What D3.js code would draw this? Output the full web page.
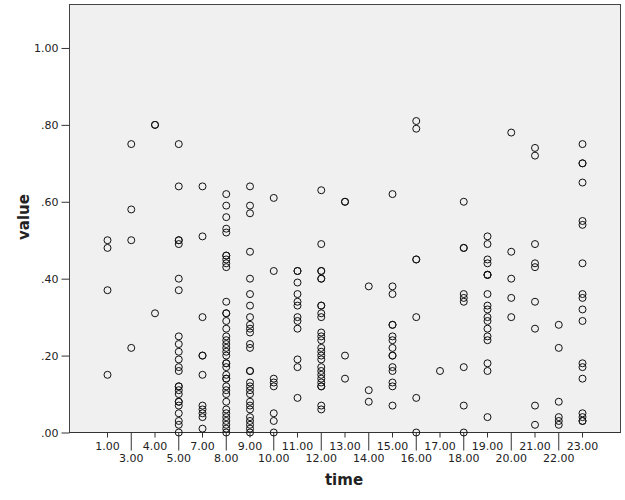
<!doctype html>
<html>
<head>
<meta charset="UTF-8" />
<script src="https://cdn.jsdelivr.net/npm/d3@7"></script>
<style>
  body { margin: 0; background: #fff; }
  svg text { font-family: "DejaVu Sans", sans-serif; }
</style>
</head>
<body>
<svg id="chart" width="625" height="500"></svg>
<script>
// time categories (2 and 6 do not occur)
const times = [1, 3, 4, 5, 7, 8, 9, 10, 11, 12, 13, 14, 15, 16, 17, 18, 19, 20, 21, 22, 23];

// observed values, one list per time category
const valuesByTime = [
  [0.50, 0.48, 0.37, 0.15],
  [0.75, 0.58, 0.50, 0.22],
  [0.80, 0.80, 0.31],
  [0.75, 0.64, 0.50, 0.50, 0.49, 0.40, 0.37, 0.25, 0.23, 0.21, 0.19, 0.17, 0.16, 0.12, 0.12, 0.11, 0.10, 0.08, 0.08, 0.07, 0.05, 0.03, 0.02, 0.00],
  [0.64, 0.51, 0.30, 0.20, 0.20, 0.15, 0.07, 0.06, 0.05, 0.04, 0.01],
  [0.62, 0.59, 0.56, 0.53, 0.52, 0.46, 0.46, 0.45, 0.44, 0.43, 0.34, 0.31, 0.31, 0.29, 0.27, 0.25, 0.24, 0.23, 0.22, 0.21, 0.20, 0.18, 0.18, 0.17, 0.15, 0.14, 0.14, 0.12, 0.11, 0.10, 0.08, 0.06, 0.05, 0.04, 0.03, 0.02, 0.01, 0.00],
  [0.64, 0.59, 0.57, 0.47, 0.40, 0.36, 0.33, 0.30, 0.28, 0.27, 0.26, 0.23, 0.22, 0.16, 0.16, 0.13, 0.12, 0.11, 0.10, 0.08, 0.07, 0.06, 0.04, 0.03, 0.02, 0.01, 0.00],
  [0.61, 0.42, 0.14, 0.13, 0.12, 0.05, 0.03, 0.00],
  [0.42, 0.42, 0.39, 0.36, 0.34, 0.33, 0.30, 0.29, 0.27, 0.19, 0.17, 0.09],
  [0.63, 0.49, 0.42, 0.42, 0.40, 0.40, 0.33, 0.33, 0.31, 0.30, 0.26, 0.25, 0.24, 0.22, 0.21, 0.20, 0.19, 0.17, 0.16, 0.15, 0.14, 0.13, 0.12, 0.12, 0.07, 0.06],
  [0.60, 0.60, 0.20, 0.14],
  [0.38, 0.11, 0.08],
  [0.62, 0.38, 0.36, 0.28, 0.28, 0.25, 0.24, 0.22, 0.20, 0.20, 0.17, 0.16, 0.13, 0.12, 0.07],
  [0.81, 0.79, 0.45, 0.45, 0.30, 0.09, 0.00],
  [0.16],
  [0.60, 0.48, 0.48, 0.36, 0.35, 0.34, 0.17, 0.07, 0.00],
  [0.51, 0.49, 0.45, 0.44, 0.41, 0.41, 0.41, 0.36, 0.33, 0.32, 0.30, 0.29, 0.27, 0.25, 0.24, 0.18, 0.16, 0.04],
  [0.78, 0.47, 0.40, 0.35, 0.30],
  [0.74, 0.72, 0.49, 0.44, 0.43, 0.34, 0.27, 0.07, 0.02],
  [0.28, 0.22, 0.08, 0.04, 0.03, 0.02],
  [0.75, 0.70, 0.70, 0.65, 0.55, 0.54, 0.44, 0.36, 0.35, 0.32, 0.29, 0.18, 0.17, 0.14, 0.05, 0.04, 0.03, 0.03]
];

const yTicks = [0, 0.2, 0.4, 0.6, 0.8, 1.0];

const svg = d3.select("#chart");
const plot = {left: 69.5, right: 620.5, top: 4.5, bottom: 432.5};

const x = d3.scalePoint()
  .domain(times)
  .range([plot.left, plot.right])
  .padding(1.6);

const y = d3.scaleLinear()
  .domain([0, 1.113])
  .range([plot.bottom, plot.top]);

const fmt = d => {
  const s = d3.format(".2f")(d);
  return s.startsWith("0") ? s.slice(1) : s;
};

// plot background
svg.append("rect")
  .attr("x", plot.left)
  .attr("y", plot.top)
  .attr("width", plot.right - plot.left)
  .attr("height", plot.bottom - plot.top)
  .attr("fill", "#f0f0f0")
  .attr("stroke", "#444")
  .attr("stroke-width", 1);

// y axis
const yAxis = svg.append("g")
  .attr("transform", "translate(" + plot.left + ",0)")
  .call(d3.axisLeft(y).tickValues(yTicks).tickFormat(fmt).tickSize(8).tickPadding(3));
yAxis.select(".domain").remove();
yAxis.selectAll("line").attr("stroke", "#333");
yAxis.selectAll("text").attr("font-size", 11).attr("fill", "#222")
  .style("font-family", "DejaVu Sans, sans-serif");

// x axis, labels staggered on two rows
const xAxis = svg.append("g")
  .attr("transform", "translate(0," + plot.bottom + ")");
xAxis.append("line")
  .attr("x1", plot.left).attr("x2", plot.right)
  .attr("stroke", "#333");
const xt = xAxis.selectAll("g.tick")
  .data(times)
  .enter().append("g")
  .attr("class", "tick")
  .attr("transform", d => "translate(" + x(d) + ",0)");
xt.append("line")
  .attr("y2", (d, i) => i % 2 === 0 ? 5 : 18)
  .attr("stroke", "#333");
xt.append("text")
  .attr("y", (d, i) => i % 2 === 0 ? 17 : 29)
  .attr("text-anchor", "middle")
  .attr("font-size", 11)
  .attr("fill", "#222")
  .text(d => d3.format(".2f")(d));

// points
const points = [];
times.forEach((t, i) => valuesByTime[i].forEach(v => points.push({time: t, value: v})));

svg.append("g")
  .selectAll("circle")
  .data(points)
  .enter().append("circle")
  .attr("cx", d => x(d.time))
  .attr("cy", d => y(d.value))
  .attr("r", 3.5)
  .attr("fill", "none")
  .attr("stroke", "#111")
  .attr("stroke-width", 1);

// axis titles
svg.append("text")
  .attr("x", 344)
  .attr("y", 485)
  .attr("text-anchor", "middle")
  .attr("font-size", 15)
  .attr("font-weight", "bold")
  .attr("fill", "#222")
  .text("time");

svg.append("text")
  .attr("transform", "translate(29,217) rotate(-90)")
  .attr("text-anchor", "middle")
  .attr("font-size", 15)
  .attr("font-weight", "bold")
  .attr("fill", "#222")
  .text("value");
</script>
</body>
</html>
